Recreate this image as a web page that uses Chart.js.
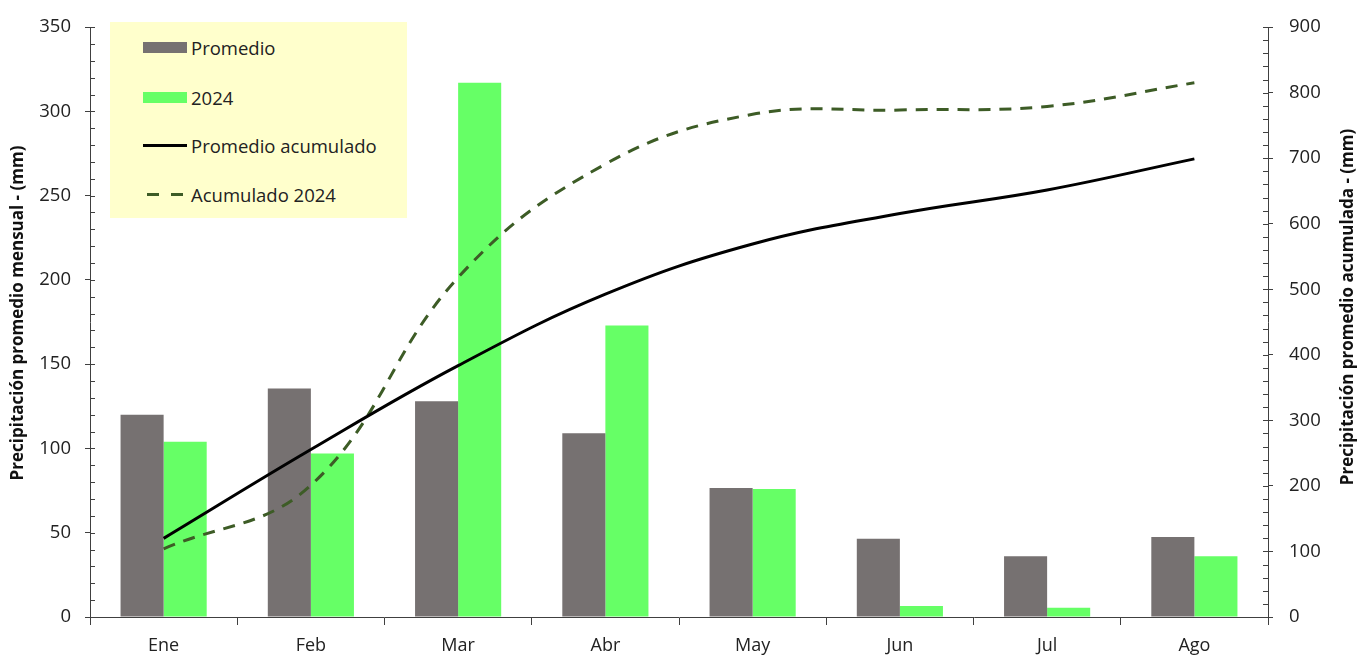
<!DOCTYPE html>
<html>
<head>
<meta charset="utf-8">
<script src="https://cdn.jsdelivr.net/npm/chart.js@4.4.1/dist/chart.umd.min.js"></script>
<style>
  html, body { margin: 0; padding: 0; background: #fff; }
  #wrap { position: relative; width: 1368px; height: 657px; }
  #legend {
    position: absolute; left: 110px; top: 22px; width: 297px; height: 196px;
    background: #ffffcc; font-family: 'Open Sans', 'Noto Sans', sans-serif; font-size: 18.5px; color: #222;
  }
  #legend .item { position: absolute; left: 33px; height: 26px; display: flex; align-items: center; }
  #legend .sw { width: 44px; margin-right: 4px; }
</style>
</head>
<body>
<div id="wrap">
  <canvas id="c" width="1368" height="657"></canvas>
  <div id="legend">
    <div class="item" style="top:12px"><span class="sw" style="height:11px;background:#767171"></span>Promedio</div>
    <div class="item" style="top:62px"><span class="sw" style="height:11px;background:#66ff66"></span>2024</div>
    <div class="item" style="top:110px"><span class="sw" style="height:3px;background:#000"></span>Promedio acumulado</div>
    <div class="item" style="top:159px"><span class="sw" style="height:3px;background:repeating-linear-gradient(90deg,transparent 0 4px,#3d5c26 4px 16px,transparent 16px 24px)"></span>Acumulado 2024</div>
  </div>
</div>
<script>
const months = ['Ene', 'Feb', 'Mar', 'Abr', 'May', 'Jun', 'Jul', 'Ago'];
const promedio = [120, 135.5, 128, 109, 76.5, 46.5, 36, 47.5];
const lluvia2024 = [104, 97, 317, 173, 76, 6.5, 5.5, 36];
const promedioAcum = [120, 255.5, 383.5, 492.5, 569, 615.5, 651.5, 699];
const acum2024 = [104, 201, 518, 691, 767, 773.5, 779, 815];

const FONT = "'Open Sans', 'Noto Sans', sans-serif";

// minor tick marks on the inside of both value axes, plus both axis titles
const innerTicks = {
  id: 'innerTicks',
  afterDraw(chart) {
    const ctx = chart.ctx;
    ctx.save();
    ctx.strokeStyle = '#404040';
    ctx.lineWidth = 1;
    const y = chart.scales.y, y1 = chart.scales.y1;
    for (let v = 0; v <= 350; v += 10) {
      const p = Math.round(y.getPixelForValue(v)) + 0.5;
      ctx.beginPath(); ctx.moveTo(y.right, p); ctx.lineTo(y.right + 5, p); ctx.stroke();
    }
    for (let v = 0; v <= 900; v += 20) {
      const p = Math.round(y1.getPixelForValue(v)) + 0.5;
      ctx.beginPath(); ctx.moveTo(y1.left, p); ctx.lineTo(y1.left - 5, p); ctx.stroke();
    }
    ctx.fillStyle = '#111';
    ctx.font = 'bold 17px ' + FONT;
    ctx.textAlign = 'center';
    ctx.textBaseline = 'middle';
    ctx.save();
    ctx.translate(18, 313);
    ctx.rotate(-Math.PI / 2);
    ctx.fillText('Precipitación promedio mensual - (mm)', 0, 0);
    ctx.restore();
    ctx.translate(1348, 307);
    ctx.rotate(-Math.PI / 2);
    ctx.fillText('Precipitación promedio acumulada - (mm)', 0, 0);
    ctx.restore();
  }
};

new Chart(document.getElementById('c'), {
  type: 'bar',
  data: {
    labels: months,
    datasets: [
      { type: 'line', label: 'Promedio acumulado', data: promedioAcum, yAxisID: 'y1', borderColor: '#000', borderWidth: 3, pointRadius: 0, tension: 0.4, order: 0 },
      { type: 'line', label: 'Acumulado 2024', data: acum2024, yAxisID: 'y1', borderColor: '#3d5c26', borderWidth: 3, borderDash: [12, 9], pointRadius: 0, tension: 0.4, order: 0 },
      { label: 'Promedio', data: promedio, backgroundColor: '#767171', yAxisID: 'y', order: 1, categoryPercentage: 0.585, barPercentage: 1 },
      { label: '2024', data: lluvia2024, backgroundColor: '#66ff66', yAxisID: 'y', order: 1, categoryPercentage: 0.585, barPercentage: 1 },
    ],
  },
  options: {
    responsive: false,
    animation: false,
    layout: { padding: { left: 0, right: 0, top: 25, bottom: 0 } },
    plugins: { legend: { display: false }, tooltip: { enabled: false } },
    scales: {
      x: {
        offset: true,
        afterFit(s) { s.height = 40; },
        grid: { offset: true, drawOnChartArea: false, tickLength: 8, color: '#404040' },
        border: { color: '#404040', width: 1 },
        ticks: { color: '#222', font: { family: FONT, size: 18 }, padding: 10 },
      },
      y: {
        position: 'left', min: 0, max: 350,
        afterFit(s) { s.width = 90; },
        grid: { drawOnChartArea: false, tickLength: 5, color: '#404040' },
        border: { color: '#404040' },
        ticks: { stepSize: 50, color: '#222', font: { family: FONT, size: 18.5 }, padding: 14 },
      },
      y1: {
        position: 'right', min: 0, max: 900,
        afterFit(s) { s.width = 100; },
        grid: { drawOnChartArea: false, tickLength: 5, color: '#404040' },
        border: { color: '#404040' },
        ticks: { stepSize: 100, color: '#222', font: { family: FONT, size: 18.5 }, padding: 16 },
      },
    },
  },
  plugins: [innerTicks],
});
</script>
</body>
</html>
